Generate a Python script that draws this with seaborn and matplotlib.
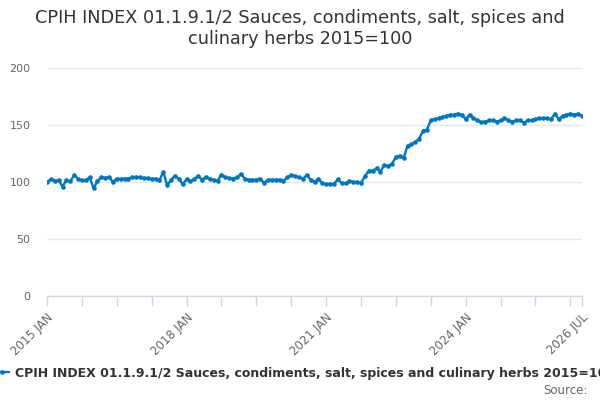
import numpy as np
import pandas as pd
import matplotlib
matplotlib.use('Agg')
import matplotlib.pyplot as plt
import seaborn as sns

# Series shown in the chart (monthly, 2015 JAN .. 2026 JUL)
series_name = 'CPIH INDEX 01.1.9.1/2 Sauces, condiments, salt, spices and culinary herbs 2015=100'
title_text = 'CPIH INDEX 01.1.9.1/2 Sauces, condiments, salt, spices and\nculinary herbs 2015=100'

values = [
    100, 102.5, 101, 101.5, 96, 101.5, 100.5, 106, 103, 101.5, 101.5, 104,
    94.5, 100.5, 104.5, 103.5, 104.5, 100, 103, 102.5, 103, 103, 104, 104.5,
    104, 103.5, 103.5, 102.5, 103, 101.5, 109, 97, 102, 105.5, 103, 98,
    102.5, 100.5, 102.5, 105.5, 102, 104.5, 102.5, 102, 101, 106.5, 104, 103.5,
    103, 104, 107, 103, 102, 102, 102, 103, 99, 102, 102, 102,
    102, 101, 104, 106, 105, 104, 103, 106, 102, 100, 103, 99,
    98, 98.5, 98, 102.5, 99, 99, 101, 100, 100, 99, 105, 110,
    110, 112, 109, 115, 114, 116, 122, 123, 121, 132, 133, 135,
    138, 145, 146, 154, 155, 156, 157, 158, 159, 159, 160, 159,
    155, 159, 156, 154, 152.5, 153, 154, 154, 153, 154, 156, 154,
    153, 154, 154, 152, 154, 154, 155, 156, 156, 156, 155, 160,
    155, 158, 159, 160, 159, 160, 158,
]
month_labels = {0: '2015 JAN', 36: '2018 JAN', 72: '2021 JAN', 108: '2024 JAN', 138: '2026 JUL'}
y_ticks = [0, 50, 100, 150, 200]

df = pd.DataFrame({'month': np.arange(len(values)), 'value': values})

sns.set_style('white')
plt.rcParams['font.family'] = ['DejaVu Sans']

fig = plt.figure(figsize=(6, 4), dpi=100)
ax = fig.add_axes([47 / 600, 104 / 400, 535 / 600, 228 / 400])

sns.lineplot(data=df, x='month', y='value', ax=ax, color='#0076bf',
             linewidth=1.7, marker='o', markersize=3.3, markeredgewidth=0,
             label=series_name, legend=False)

# axes styling
ax.set_xlim(0, len(values) - 1)
ax.set_ylim(0, 200)
ax.set_yticks(y_ticks)
ax.yaxis.grid(True, color='#e6e6e6', linewidth=1)
ax.set_axisbelow(True)
for side in ['left', 'right', 'top']:
    ax.spines[side].set_visible(False)
ax.spines['bottom'].set_color('#ccd6eb')
ax.spines['bottom'].set_linewidth(1)

xt = list(range(0, len(values) - 1, 9)) + [len(values) - 1]
ax.set_xticks(xt)
ax.set_xticklabels([month_labels.get(m, '') for m in xt], rotation=45,
                   ha='right', rotation_mode='anchor', color='#666666', fontsize=8.5)
ax.tick_params(axis='x', length=7.5, width=1, color='#ccd6eb', pad=3, bottom=True)
ax.tick_params(axis='y', length=0, pad=12, labelcolor='#666666', labelsize=8)
ax.set_xlabel('')
ax.set_ylabel('')

fig.text(0.5, 0.978, title_text, ha='center', va='top', fontsize=12.7,
         color='#333333', linespacing=1.2)

handles, labels = ax.get_legend_handles_labels()
fig.legend(handles, labels, loc='center left', bbox_to_anchor=(-0.008, 1 - 373 / 400),
           frameon=False, borderpad=0, borderaxespad=0, handlelength=1.1,
           handletextpad=0.5, prop={'weight': 'bold', 'size': 9}, labelcolor='#333333')

fig.text(588 / 600, 1 - 390 / 400, 'Source:', ha='right', va='center',
         color='#666666', fontsize=8.5)

fig.savefig('out.png', dpi=100)
